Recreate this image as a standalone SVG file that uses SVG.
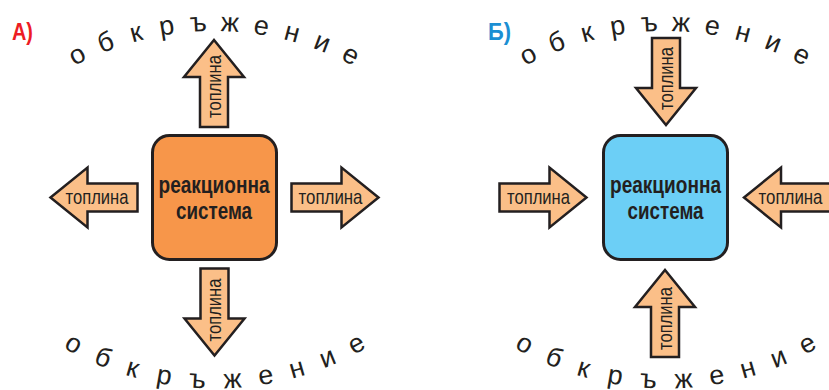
<svg xmlns="http://www.w3.org/2000/svg" xmlns:xlink="http://www.w3.org/1999/xlink" width="829" height="390" viewBox="0 0 829 390">
  <style>
    .arrow{fill:#fbbf88;stroke:#231f20;stroke-width:2.5;stroke-linejoin:miter}
    .box{stroke:#231f20;stroke-width:3}
    .heat{font-family:"Liberation Sans",Arial,sans-serif;font-size:21px;fill:#231f20;text-anchor:middle}
    .sys{font-family:"Liberation Sans",Arial,sans-serif;font-weight:bold;font-size:24px;fill:#231f20;text-anchor:middle}
    .env{font-family:"Liberation Sans",Arial,sans-serif;font-size:27px;fill:#231f20;text-anchor:middle}
    .tag{font-family:"Liberation Sans",Arial,sans-serif;font-weight:bold;font-size:24px}
  </style>
  <defs>
    <!-- block arrow pointing right, centred on the origin -->
    <polygon id="blk" class="arrow" points="-44,-14 6,-14 6,-30 43,0 6,30 6,14 -44,14"/>
  </defs>

  <!-- panel labels -->
  <text id="tagA" class="tag" x="12" y="40" fill="#ed1c24" textLength="21" lengthAdjust="spacingAndGlyphs">А)</text>
  <text id="tagB" class="tag" x="488" y="40" fill="#1b8fd3" textLength="23" lengthAdjust="spacingAndGlyphs">Б)</text>

  <!-- surroundings, panel A (top and bottom arcs) -->
  <g id="envA-top" class="env">
    <text x="214" y="31" transform="rotate(-26.8 214 326)">о</text>
    <text x="214" y="31" transform="rotate(-20.9 214 326)">б</text>
    <text x="214" y="31" transform="rotate(-14.9 214 326)">к</text>
    <text x="214" y="31" transform="rotate(-9 214 326)">р</text>
    <text x="214" y="31" transform="rotate(-3 214 326)">ъ</text>
    <text x="214" y="31" transform="rotate(3 214 326)">ж</text>
    <text x="214" y="31" transform="rotate(9 214 326)">е</text>
    <text x="214" y="31" transform="rotate(14.9 214 326)">н</text>
    <text x="214" y="31" transform="rotate(20.9 214 326)">и</text>
    <text x="214" y="31" transform="rotate(26.8 214 326)">е</text>
  </g>
  <g id="envA-bottom" class="env">
    <text x="215" y="388.5" transform="rotate(28.6 215 85)">о</text>
    <text x="215" y="388.5" transform="rotate(22.3 215 85)">б</text>
    <text x="215" y="388.5" transform="rotate(16.2 215 85)">к</text>
    <text x="215" y="388.5" transform="rotate(9.9 215 85)">р</text>
    <text x="215" y="388.5" transform="rotate(3.4 215 85)">ъ</text>
    <text x="215" y="388.5" transform="rotate(-3.4 215 85)">ж</text>
    <text x="215" y="388.5" transform="rotate(-9.9 215 85)">е</text>
    <text x="215" y="388.5" transform="rotate(-16.1 215 85)">н</text>
    <text x="215" y="388.5" transform="rotate(-22.4 215 85)">и</text>
    <text x="215" y="388.5" transform="rotate(-28.6 215 85)">е</text>
  </g>

  <!-- surroundings, panel B -->
  <g id="envB-top" class="env">
    <text x="665" y="31" transform="rotate(-26.8 665 326)">о</text>
    <text x="665" y="31" transform="rotate(-20.9 665 326)">б</text>
    <text x="665" y="31" transform="rotate(-14.9 665 326)">к</text>
    <text x="665" y="31" transform="rotate(-9 665 326)">р</text>
    <text x="665" y="31" transform="rotate(-3 665 326)">ъ</text>
    <text x="665" y="31" transform="rotate(3 665 326)">ж</text>
    <text x="665" y="31" transform="rotate(9 665 326)">е</text>
    <text x="665" y="31" transform="rotate(14.9 665 326)">н</text>
    <text x="665" y="31" transform="rotate(20.9 665 326)">и</text>
    <text x="665" y="31" transform="rotate(26.8 665 326)">е</text>
  </g>
  <g id="envB-bottom" class="env">
    <text x="666" y="388.5" transform="rotate(28.6 666 85)">о</text>
    <text x="666" y="388.5" transform="rotate(22.3 666 85)">б</text>
    <text x="666" y="388.5" transform="rotate(16.2 666 85)">к</text>
    <text x="666" y="388.5" transform="rotate(9.9 666 85)">р</text>
    <text x="666" y="388.5" transform="rotate(3.4 666 85)">ъ</text>
    <text x="666" y="388.5" transform="rotate(-3.4 666 85)">ж</text>
    <text x="666" y="388.5" transform="rotate(-9.9 666 85)">е</text>
    <text x="666" y="388.5" transform="rotate(-16.1 666 85)">н</text>
    <text x="666" y="388.5" transform="rotate(-22.4 666 85)">и</text>
    <text x="666" y="388.5" transform="rotate(-28.6 666 85)">е</text>
  </g>

  <!-- reaction systems -->
  <g id="systemA">
    <rect class="box" x="152.5" y="135.5" width="124" height="124" rx="17" fill="#f7964a"/>
    <text class="sys" x="214" y="193" textLength="111" lengthAdjust="spacingAndGlyphs">реакционна</text>
    <text class="sys" x="214" y="219" textLength="76" lengthAdjust="spacingAndGlyphs">система</text>
  </g>
  <g id="systemB">
    <rect class="box" x="603.5" y="135.5" width="124" height="124" rx="17" fill="#6ccff6"/>
    <text class="sys" x="665.5" y="193" textLength="111" lengthAdjust="spacingAndGlyphs">реакционна</text>
    <text class="sys" x="665.5" y="219" textLength="76" lengthAdjust="spacingAndGlyphs">система</text>
  </g>

  <!-- heat flows -->
  <g id="connectors">
    <!-- A: heat released to the surroundings -->
    <use xlink:href="#blk" href="#blk" transform="translate(214 83) rotate(-90)"/>
    <use xlink:href="#blk" href="#blk" transform="translate(214.5 312.5) rotate(90)"/>
    <use xlink:href="#blk" href="#blk" transform="translate(93.5 197.5) rotate(180)"/>
    <use xlink:href="#blk" href="#blk" transform="translate(335.5 197.5)"/>
    <!-- B: heat absorbed from the surroundings -->
    <use xlink:href="#blk" href="#blk" transform="translate(666 82) rotate(90)"/>
    <use xlink:href="#blk" href="#blk" transform="translate(665 313) rotate(-90)"/>
    <use xlink:href="#blk" href="#blk" transform="translate(543.5 197.5)"/>
    <use xlink:href="#blk" href="#blk" transform="translate(787 197.5) rotate(180)"/>

    <g class="heat">
      <text transform="translate(221 86.5) rotate(-90)" textLength="63" lengthAdjust="spacingAndGlyphs">топлина</text>
      <text transform="translate(221 310) rotate(-90)" textLength="63" lengthAdjust="spacingAndGlyphs">топлина</text>
      <text x="97" y="204" textLength="63" lengthAdjust="spacingAndGlyphs">топлина</text>
      <text x="330.5" y="204" textLength="64" lengthAdjust="spacingAndGlyphs">топлина</text>
      <text transform="translate(672.5 78.5) rotate(-90)" textLength="63" lengthAdjust="spacingAndGlyphs">топлина</text>
      <text transform="translate(672 318.5) rotate(-90)" textLength="63" lengthAdjust="spacingAndGlyphs">топлина</text>
      <text x="538.5" y="204" textLength="63" lengthAdjust="spacingAndGlyphs">топлина</text>
      <text x="790.5" y="204" textLength="64" lengthAdjust="spacingAndGlyphs">топлина</text>
    </g>
  </g>
</svg>
